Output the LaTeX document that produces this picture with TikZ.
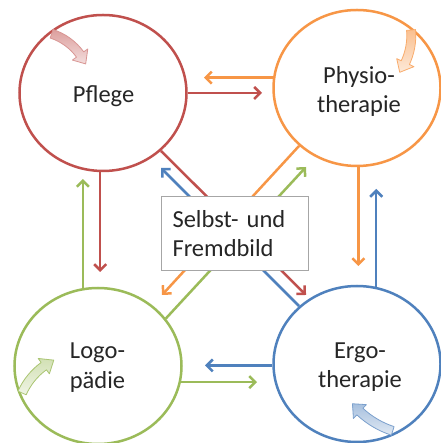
\documentclass[tikz,border=0pt]{standalone}
\usepackage{fontspec}
\setmainfont{Carlito}
\usetikzlibrary{shapes.geometric,arrows.meta,calc}
\definecolor{cred}{HTML}{C0504D}
\definecolor{corange}{HTML}{F79646}
\definecolor{cgreen}{HTML}{9BBB59}
\definecolor{cblue}{HTML}{4F81BD}
\definecolor{cgray}{HTML}{A6A6A6}
\definecolor{ctext}{HTML}{262626}
\newcommand\cwarrow[7]{%
  \pgfmathsetmacro\rOut{#3+4.5}\pgfmathsetmacro\rIn{#3-4.5}%
  \pgfmathsetmacro\hOut{#3+9.5}\pgfmathsetmacro\hIn{#3-9.5}%
  \path[#7] ($(#1,#2)+(#4:\rOut pt)$) arc[start angle=#4, end angle=#5, radius=\rOut pt]
    -- ($(#1,#2)+(#5:\hOut pt)$) -- ($(#1,#2)+(#6:#3pt)$) -- ($(#1,#2)+(#5:\hIn pt)$)
    -- ($(#1,#2)+(#5:\rIn pt)$) arc[start angle=#5, end angle=#4, radius=\rIn pt] -- cycle;}
\tikzset{
  circ/.style={ellipse, draw=#1, line width=2.5pt, minimum width=167pt,
    minimum height=156pt, inner sep=0pt, fill=white},
  lbl/.style={font=\fontsize{24.5}{29.5}\selectfont, align=center, inner sep=0pt, text=ctext},
  conn/.style={draw=#1, line width=2.5pt, -{Straight Barb[length=6pt,width=12pt]}},
  curvarrow/.style 2 args={shade, top color=#1, bottom color=#1!35!white, draw=#2,
    line width=0.8pt, line join=round},
}
\begin{document}
\begin{tikzpicture}[x=1pt,y=1pt]
\useasboundingbox (0,0) rectangle (440,443);
\fill[white] (0,0) rectangle (440,443);
% circles
\node[circ=cred]    (pflege) at (103,350) {};
\node[circ=corange] (physio) at (357,355) {};
\node[circ=cgreen]  (logo)   at (98,77)   {};
\node[circ=cblue]   (ergo)   at (357,79)  {};
% tips of connectors
\coordinate (t1) at (262,350);
\coordinate (t2) at (204,365);
\coordinate (t3) at (101,171);
\coordinate (t4) at (83,264);
\coordinate (t5) at (359,177);
\coordinate (t6) at (376,254);
\coordinate (t7) at (257,61);
\coordinate (t8) at (205,78);
\coordinate (t9) at (306,148);
\coordinate (t10) at (161,275);
\coordinate (t11) at (162,148);
\coordinate (t12) at (306,276);
% horizontal and vertical connectors
\draw[conn=cred]    (pflege.east) -- (pflege.east -| t1);
\draw[conn=corange] (physio.173) -- (physio.173 -| t2);
\draw[conn=cred]    (pflege.268) -- (pflege.268 |- t3);
\draw[conn=cgreen]  (logo.101) -- (logo.101 |- t4);
\draw[conn=corange] (physio.271) -- (physio.271 |- t5);
\draw[conn=cblue]   (ergo.76) -- (ergo.76 |- t6);
\draw[conn=cgreen]  (logo.-11) -- (logo.-11 -| t7);
\draw[conn=cblue]   (ergo.181) -- (ergo.181 -| t8);
% diagonal connectors
\draw[conn=cred]    (pflege.-45) -- (t9);
\draw[conn=cblue]   (ergo.135) -- (t10);
\draw[conn=corange] (physio.225) -- (t11);
\draw[conn=cgreen]  (logo.35) -- (t12);
% central box
\node[draw=cgray, line width=1pt, fill=white, text width=125pt, align=left,
  inner xsep=11pt, minimum height=74pt, font=\fontsize{24.5}{29.5}\selectfont,
  text=ctext, anchor=north west] (box) at (161,247) {Selbst- und\\Fremdbild};
% labels
\node[lbl] (pflegetxt) at (103.5,347) {Pflege};
\node[lbl] (physiotxt) at (359,351.5) {Physio-\\therapie};
\node[lbl] (logotxt)   at (97.5,75.3) {Logo-\\pädie};
\node[lbl] (ergotxt)   at (360,75.8) {Ergo-\\therapie};
% curved arrows inside circles
\cwarrow{34}{355}{57}{72}{36}{25}{curvarrow={cred!55!white}{cred!60!white}}
\cwarrow{347.3}{407.4}{64}{5}{-25}{-35}{curvarrow={corange!60!white}{corange!80!white}}
\cwarrow{83}{22.9}{66.7}{156}{126}{116}{curvarrow={cgreen!45!white}{cgreen!85!white}}
\cwarrow{419.9}{95.8}{88}{252}{227}{220}{curvarrow={cblue!50!white}{cblue!75!white}}
\end{tikzpicture}
\end{document}
